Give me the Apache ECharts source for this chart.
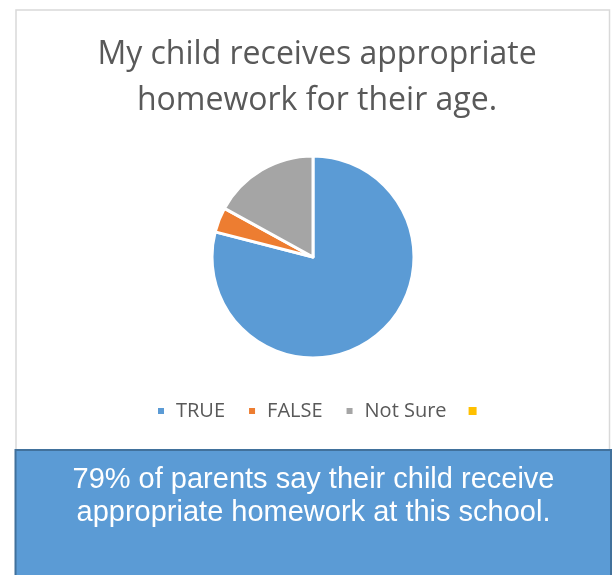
<!DOCTYPE html>
<html>
<head>
<meta charset="utf-8">
<script src="https://cdn.jsdelivr.net/npm/echarts@6/dist/echarts.min.js"></script>
<style>
html,body{margin:0;padding:0;background:#fff;}
#chart{width:612px;height:575px;}
</style>
</head>
<body>
<div id="chart"></div>
<script>
const titleText = 'My child receives appropriate\nhomework for their age.';
const categories = ['TRUE', 'FALSE', 'Not Sure', ' '];
const values = [79, 4, 17, 0];
const colors = ['#5B9BD5', '#ED7D31', '#A5A5A5', '#FFC000'];
const noteText = '79% of parents say their child receive\nappropriate homework at this school.';

const chart = echarts.init(document.getElementById('chart'), null, {renderer: 'canvas'});

const pieData = categories.map((c, i) => {
  const d = {name: c, value: values[i], itemStyle: {color: colors[i]}};
  if (values[i] === 0) d.itemStyle.borderWidth = 0;
  return d;
});

chart.setOption({
  animation: false,
  backgroundColor: '#ffffff',
  title: {
    text: titleText,
    left: 312,
    textAlign: 'center',
    top: 27,
    textStyle: {
      fontFamily: 'Open Sans',
      fontSize: 32,
      fontWeight: 'normal',
      color: '#595959',
      lineHeight: 46
    }
  },
  legend: {
    left: 156,
    top: 401,
    padding: 0,
    icon: 'rect',
    itemWidth: 8,
    itemHeight: 8,
    itemGap: 22,
    selectedMode: false,
    data: categories,
    textStyle: {
      fontFamily: 'Open Sans',
      fontSize: 20,
      color: '#595959',
      padding: [0, 0, 0, 6]
    }
  },
  graphic: [
    {
      type: 'rect',
      z: -1,
      shape: {x: 16, y: 10, width: 593.5, height: 440},
      style: {fill: 'none', stroke: '#d9d9d9', lineWidth: 1.5}
    },
    {
      type: 'rect',
      z: 1,
      shape: {x: 15.5, y: 450, width: 595.5, height: 130},
      style: {fill: '#5B9BD5', stroke: '#41719C', lineWidth: 2}
    },
    {
      type: 'text',
      z: 2,
      x: 313.5,
      y: 463,
      style: {
        text: noteText,
        fill: '#ffffff',
        fontSize: 29,
        fontFamily: 'Liberation Sans',
        lineHeight: 33.5,
        align: 'center',
        verticalAlign: 'top'
      }
    }
  ],
  series: [{
    type: 'pie',
    center: [313, 257],
    radius: [0, 101],
    startAngle: 90,
    clockwise: true,
    label: {show: false},
    labelLine: {show: false},
    emphasis: {disabled: true},
    itemStyle: {borderColor: '#ffffff', borderWidth: 3},
    data: pieData
  }]
});
</script>
</body>
</html>
